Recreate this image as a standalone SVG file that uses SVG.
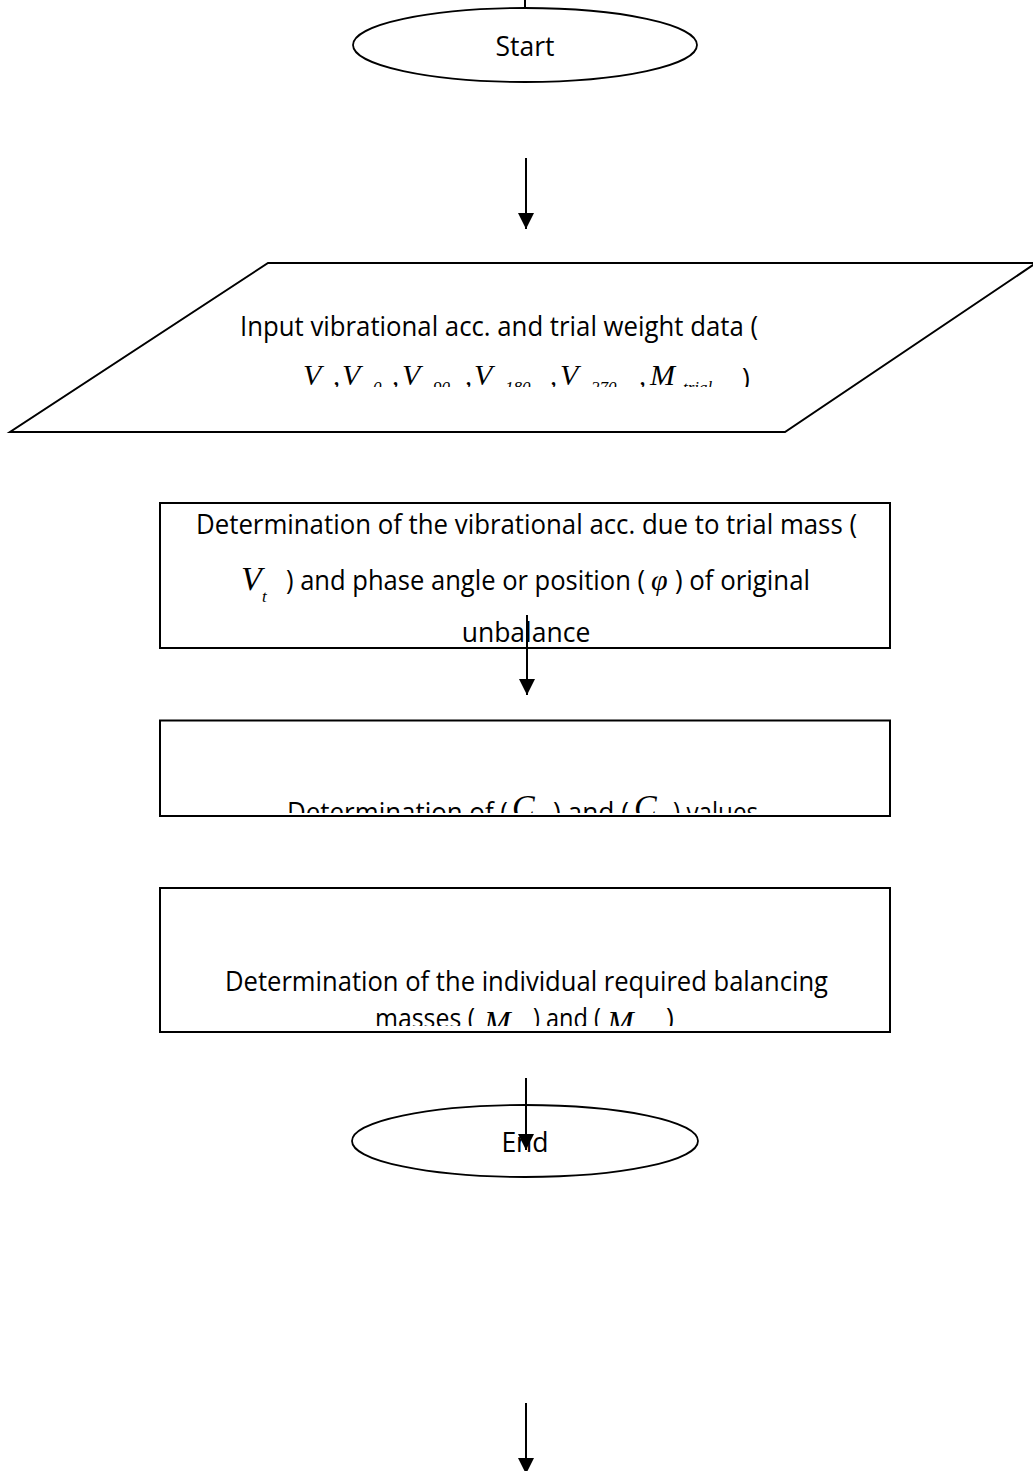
<svg xmlns="http://www.w3.org/2000/svg" width="1033" height="1471" viewBox="0 0 1033 1471">
<style>
.shape{fill:#fff;stroke:#000;stroke-width:2}
.ell{fill:#fff;stroke:#000;stroke-width:1.8}
.t{font-family:"Open Sans","Liberation Sans",sans-serif;font-size:26.5px;fill:#000}
.m{font-family:"Liberation Serif","Times New Roman",serif;font-style:italic;fill:#000}
.conn{stroke:#000;stroke-width:2;fill:none}
</style>
<defs>
<marker id="ah" markerUnits="userSpaceOnUse" markerWidth="16" markerHeight="16" refX="16" refY="8" orient="auto"><path d="M0,0 L16,8 L0,16 Z" fill="#000"/></marker>
<clipPath id="c1"><rect x="0" y="340" width="1033" height="47"/></clipPath>
<clipPath id="c3"><rect x="0" y="760" width="1033" height="53"/></clipPath>
<clipPath id="c4"><rect x="0" y="1000" width="1033" height="26"/></clipPath>
</defs>
<g id="start">
<ellipse class="ell" cx="525" cy="45" rx="172" ry="37"/>
<text class="t" x="525" y="56" text-anchor="middle">Start</text>
</g>
<g id="input">
<polygon class="shape" points="268,263 1036,263 785,432 10,432"/>
<text class="t" x="240" y="336" textLength="518" lengthAdjust="spacingAndGlyphs">Input vibrational acc. and trial weight data (</text>
<g clip-path="url(#c1)">
<text class="m" x="303" y="385" font-size="30">V</text>
<text class="m" x="333" y="385" font-size="28" font-style="normal">,</text>
<text class="m" x="342" y="385" font-size="30">V</text>
<text class="m" x="373" y="393" font-size="17">0</text>
<text class="m" x="392" y="385" font-size="28" font-style="normal">,</text>
<text class="m" x="402" y="385" font-size="30">V</text>
<text class="m" x="433" y="393" font-size="17">90</text>
<text class="m" x="465" y="385" font-size="28" font-style="normal">,</text>
<text class="m" x="474" y="385" font-size="30">V</text>
<text class="m" x="505" y="393" font-size="17">180</text>
<text class="m" x="550" y="385" font-size="28" font-style="normal">,</text>
<text class="m" x="560" y="385" font-size="30">V</text>
<text class="m" x="591" y="393" font-size="17">270</text>
<text class="m" x="639" y="385" font-size="28" font-style="normal">,</text>
<text class="m" x="650" y="385" font-size="30">M</text>
<text class="m" x="683" y="393" font-size="17">trial</text>
<text class="t" x="742" y="388">)</text>
</g>
</g>
<g id="step1">
<rect class="shape" x="160" y="503" width="730" height="145"/>
<text class="t" x="196" y="534" textLength="661" lengthAdjust="spacingAndGlyphs">Determination of the vibrational acc. due to trial mass (</text>
<text class="m" x="241" y="590" font-size="34">V</text>
<text class="m" x="262" y="602" font-size="17">t</text>
<text class="t" y="590"><tspan x="286" textLength="359" lengthAdjust="spacingAndGlyphs">) and phase angle or position (</tspan><tspan class="m" x="651" font-size="30">φ</tspan><tspan x="675" textLength="135" lengthAdjust="spacingAndGlyphs">) of original</tspan></text>
<text class="t" x="526" y="642" text-anchor="middle">unbalance</text>
</g>
<g id="step2">
<rect class="shape" x="160" y="720.5" width="730" height="95.5"/>
<g clip-path="url(#c3)">
<text class="t" x="287" y="822" textLength="221" lengthAdjust="spacingAndGlyphs">Determination of (</text>
<text class="m" x="512" y="818" font-size="34">C</text>
<text class="t" x="553" y="822" textLength="76" lengthAdjust="spacingAndGlyphs">) and (</text>
<text class="m" x="634" y="818" font-size="34">C</text>
<text class="t" x="673" y="822" textLength="85" lengthAdjust="spacingAndGlyphs">) values</text>
</g>
</g>
<g id="step3">
<rect class="shape" x="160" y="888" width="730" height="144"/>
<text class="t" x="225" y="991" textLength="603" lengthAdjust="spacingAndGlyphs">Determination of the individual required balancing</text>
<g clip-path="url(#c4)">
<text class="t" x="375" y="1028" textLength="100" lengthAdjust="spacingAndGlyphs">masses (</text>
<text class="m" x="484" y="1033" font-size="32">M</text>
<text class="t" x="533" y="1028" textLength="68" lengthAdjust="spacingAndGlyphs">) and (</text>
<text class="m" x="607" y="1033" font-size="32">M</text>
<text class="t" x="666" y="1028">)</text>
</g>
</g>
<g id="end">
<ellipse class="ell" cx="525" cy="1141" rx="173" ry="36"/>
<text class="t" x="525" y="1152" text-anchor="middle">End</text>
</g>
<g id="connectors">
<line class="conn" x1="525" y1="0" x2="525" y2="8" stroke-width="1.5"/>
<line class="conn" x1="526" y1="158" x2="526" y2="229" marker-end="url(#ah)"/>
<line class="conn" x1="527" y1="615" x2="527" y2="695" marker-end="url(#ah)"/>
<line class="conn" x1="526" y1="1078" x2="526" y2="1150" marker-end="url(#ah)"/>
<line class="conn" x1="526" y1="1403" x2="526" y2="1474" marker-end="url(#ah)"/>
</g>
</svg>
